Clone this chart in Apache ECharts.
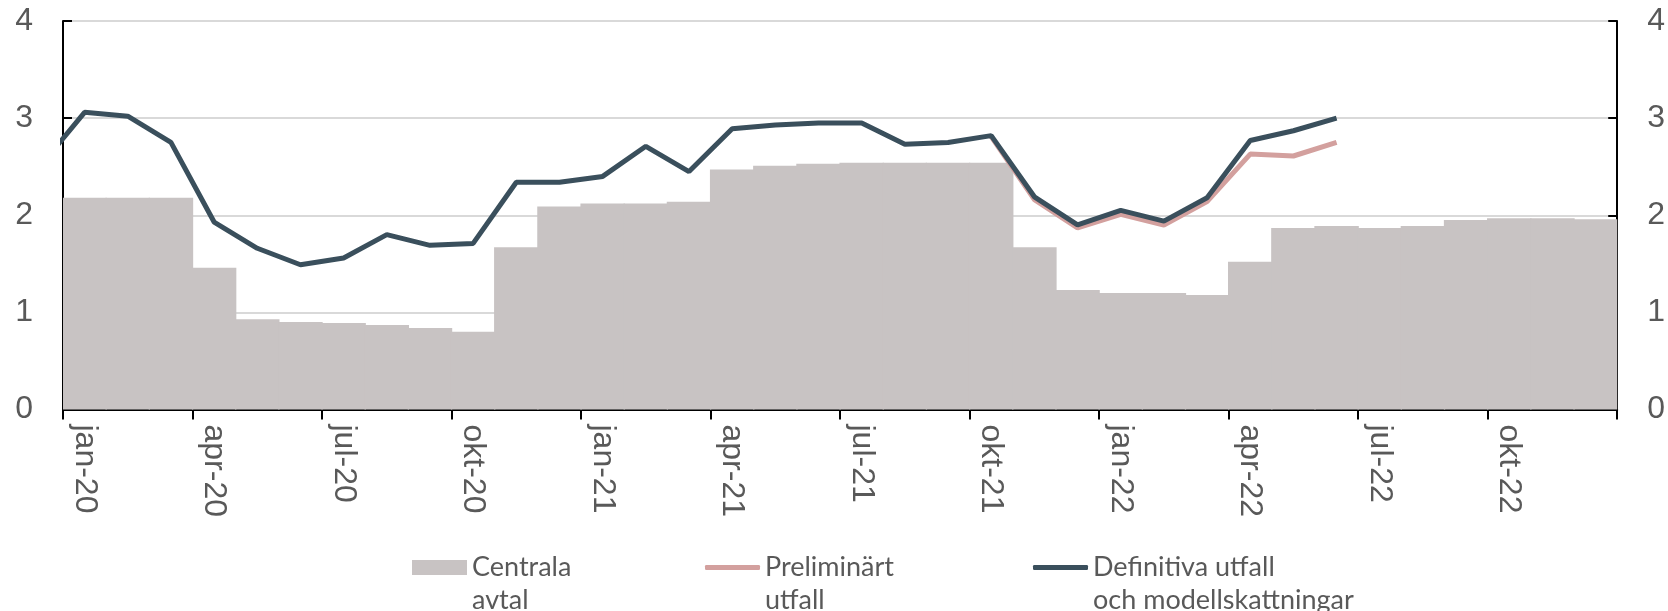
<!DOCTYPE html>
<html>
<head>
<meta charset="utf-8">
<script src="https://cdn.jsdelivr.net/npm/echarts@6/dist/echarts.min.js"></script>
<style>
html,body{margin:0;padding:0;background:#fff;}
#chart{width:1668px;height:611px;}
</style>
</head>
<body>
<div id="chart"></div>
<script>
// kategorier: jan-20 .. dec-22
var monthNames = ['jan','feb','mar','apr','maj','jun','jul','aug','sep','okt','nov','dec'];
var years = ['20','21','22'];
var months = [];
for (var y = 0; y < years.length; y++) {
	for (var m = 0; m < monthNames.length; m++) {
		months.push(monthNames[m] + '-' + years[y]);
	}
}

var centralaAvtal = [2.18,2.18,2.18,1.46,0.93,0.90,0.89,0.87,0.84,0.80,1.67,2.09,
	2.12,2.12,2.14,2.47,2.51,2.53,2.54,2.54,2.54,2.54,1.67,1.23,
	1.20,1.20,1.18,1.52,1.87,1.89,1.87,1.89,1.95,1.97,1.97,1.96];

// preliminärt utfall, börjar okt-21
var preliminartStart = 21;
var preliminart = [2.81,2.16,1.87,2.01,1.90,2.14,2.63,2.61,2.75];

// definitiva utfall, börjar dec-19 (utanför bild), sedan jan-20 ..
var definitivaDec19 = 2.52;
var definitiva = [3.06,3.02,2.75,1.93,1.66,1.49,1.56,1.80,1.69,1.71,2.34,2.34,
	2.40,2.71,2.45,2.89,2.93,2.95,2.95,2.73,2.75,2.82,2.19,1.90,
	2.05,1.94,2.18,2.77,2.87,3.00];

var yMin = 0, yMax = 4, yStep = 1;

var labelColor = '#595959';
var fontName = 'Liberation Sans';

function toPoints(arr, start) {
	var out = [];
	for (var i = 0; i < arr.length; i++) {
		out.push([start + i + 0.5, arr[i]]);
	}
	return out;
}

var defPoints = [[-0.5, definitivaDec19]].concat(toPoints(definitiva, 0));
var prelPoints = toPoints(preliminart, preliminartStart);

function yAxisCfg(pos, grid) {
	return {
		type: 'value',
		position: pos,
		min: yMin, max: yMax, interval: yStep,
		axisLine: {show: true, lineStyle: {color: '#000', width: 2}},
		axisTick: {show: true, inside: true, length: 9, lineStyle: {color: '#000', width: 2}},
		axisLabel: {color: labelColor, fontSize: 32, fontFamily: fontName, margin: 30},
		splitLine: {show: grid, lineStyle: {color: '#d9d9d9', width: 2}}
	};
}

var legendText = {color: labelColor, fontSize: 27, fontFamily: 'Lato', lineHeight: 33};

// tom första rad så att ikonen hamnar i höjd med första textraden
function legendCfg(name, left, label, icon, h) {
	return {
		data: [{name: name, icon: icon}],
		left: left,
		top: 518,
		itemWidth: 55,
		itemHeight: h,
		itemGap: 0,
		padding: 0,
		selectedMode: false,
		formatter: function () { return ' \n' + label; },
		textStyle: legendText
	};
}

var option = {
	animation: false,
	backgroundColor: '#fff',
	grid: {left: 63, right: 50, top: 21, bottom: 201.5},
	legend: [
		legendCfg('Centrala avtal', 412, 'Centrala\navtal', 'rect', 15),
		legendCfg('Preliminärt utfall', 705, 'Preliminärt\nutfall', 'roundRect', 5),
		legendCfg('Definitiva utfall och modellskattningar', 1033, 'Definitiva utfall\noch modellskattningar', 'roundRect', 5)
	],
	xAxis: [{
		type: 'category',
		data: months,
		boundaryGap: true,
		axisLine: {lineStyle: {color: '#000', width: 2}},
		axisTick: {show: true, interval: 2, length: 10, lineStyle: {color: '#000', width: 2}},
		axisLabel: {interval: 2, rotate: -90, margin: 15, padding: [6, 0, 0, 0], color: labelColor, fontSize: 32, fontFamily: fontName},
		splitLine: {show: false}
	}, {
		type: 'value',
		min: 0, max: months.length,
		show: false
	}],
	yAxis: [yAxisCfg('left', true), yAxisCfg('right', false)],
	series: [{
		name: 'Centrala avtal',
		type: 'bar',
		xAxisIndex: 0,
		yAxisIndex: 0,
		barWidth: '103%',
		itemStyle: {color: '#c8c3c3'},
		data: centralaAvtal
	}, {
		name: 'Preliminärt utfall',
		type: 'line',
		xAxisIndex: 1,
		yAxisIndex: 0,
		symbol: 'none',
		lineStyle: {color: '#d3a09e', width: 5},
		itemStyle: {color: '#d3a09e'},
		data: prelPoints
	}, {
		name: 'Definitiva utfall och modellskattningar',
		type: 'line',
		xAxisIndex: 1,
		yAxisIndex: 0,
		symbol: 'none',
		lineStyle: {color: '#3a4f5c', width: 5},
		itemStyle: {color: '#3a4f5c'},
		data: defPoints
	}]
};

var chart = echarts.init(document.getElementById('chart'));
chart.setOption(option);
</script>
</body>
</html>
